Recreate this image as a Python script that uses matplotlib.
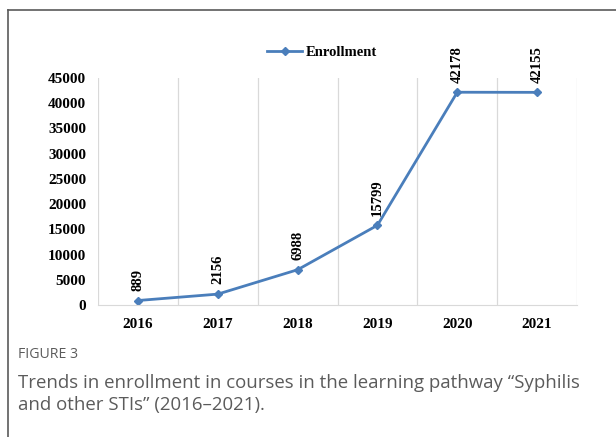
import matplotlib
matplotlib.use("Agg")
import matplotlib.pyplot as plt
from matplotlib.lines import Line2D

# data
years = ["2016", "2017", "2018", "2019", "2020", "2021"]
enrollment = [889, 2156, 6988, 15799, 42178, 42155]
y_ticks = [0, 5000, 10000, 15000, 20000, 25000, 30000, 35000, 40000, 45000]

line_color = "#4a7ebb"
serif = "Liberation Serif"

fig = plt.figure(figsize=(6.16, 4.37), dpi=100)
ax = fig.add_axes([98 / 616, 1 - 305 / 437, (577 - 98) / 616, (305 - 78) / 437])

x = list(range(len(years)))
ax.plot(x, enrollment, color=line_color, lw=2, marker="D", markersize=4.5,
        label="Enrollment")

for xi, v in zip(x, enrollment):
    ax.annotate(str(v), (xi, v), xytext=(0, 7), textcoords="offset points",
                rotation=90, ha="center", va="bottom", fontsize=10.5,
                fontweight="bold", family=serif)

ax.set_xlim(-0.5, len(years) - 0.5)
ax.set_ylim(0, 45000)
ax.set_yticks(y_ticks)
ax.set_yticklabels([str(t) for t in y_ticks], fontsize=11, fontweight="bold",
                   family=serif)
ax.set_xticks(x)
ax.set_xticklabels(years, fontsize=11, fontweight="bold", family=serif)
ax.set_xticks([i - 0.5 for i in range(len(years) + 1)], minor=True)
ax.tick_params(axis="both", which="both", length=0)
ax.tick_params(axis="x", pad=9)
ax.tick_params(axis="y", pad=8.5)
ax.grid(True, which="minor", axis="x", color="#d9d9d9", lw=0.9)

for side in ["top", "right", "left"]:
    ax.spines[side].set_visible(False)
ax.spines["bottom"].set_color("#d9d9d9")

fig.legend(loc="center", bbox_to_anchor=(322 / 616, 1 - 52 / 437), frameon=False,
           prop={"family": serif, "weight": "bold", "size": 10.5},
           handlelength=2.4, handletextpad=0.2)

# frame around the figure panel
border = "#5a5a5a"
fig.add_artist(Line2D([8 / 616, 1], [1 - 10 / 437] * 2, color=border, lw=1.2,
                      transform=fig.transFigure))
fig.add_artist(Line2D([8 / 616] * 2, [0, 1 - 10 / 437], color=border, lw=1.2,
                      transform=fig.transFigure))

# caption
cap_color = "#5b5b5b"
fig.text(18 / 616, 1 - 355 / 437, "FIGURE 3", fontsize=10.2, color=cap_color,
         family="Open Sans", va="center")
fig.text(18 / 616, 1 - 383 / 437,
         "Trends in enrollment in courses in the learning pathway \u201cSyphilis",
         fontsize=13.4, color=cap_color, family="Open Sans", va="center")
fig.text(18 / 616, 1 - 405 / 437, "and other STIs\u201d (2016\u20132021).",
         fontsize=13.4, color=cap_color, family="Open Sans", va="center")

fig.savefig("out.png", dpi=100)
